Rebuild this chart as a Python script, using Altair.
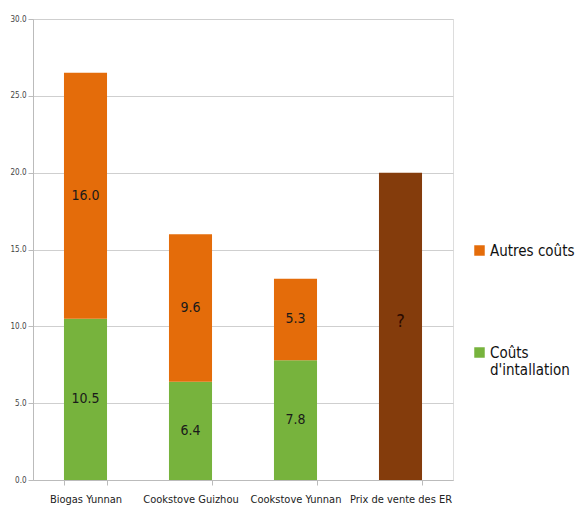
import altair as alt
import pandas as pd

categories = ["Biogas Yunnan", "Cookstove Guizhou", "Cookstove Yunnan"]
install_costs = [10.5, 6.4, 7.8]
other_costs = [16.0, 9.6, 5.3]
price_category = "Prix de vente des ER"
price_value = 20.0
price_label = "?"
series_names = ["Coûts d'intallation", "Autres coûts"]
all_categories = categories + [price_category]

rows = []
for c, a, b in zip(categories, install_costs, other_costs):
    rows.append({"cat": c, "series": series_names[0], "value": a, "ord": 0, "label": f"{a:.1f}"})
    rows.append({"cat": c, "series": series_names[1], "value": b, "ord": 1, "label": f"{b:.1f}"})
df = pd.DataFrame(rows)
df_price = pd.DataFrame([{"cat": price_category, "value": price_value, "label": price_label}])

FONT = "Liberation Sans Narrow, DejaVu Sans Condensed, sans-serif"

x_enc = alt.X("cat:N", sort=all_categories, scale=alt.Scale(domain=all_categories, paddingInner=0.59, paddingOuter=0.295),
              axis=alt.Axis(title=None, labelAngle=0, labelFontSize=11, labelColor="#222", labelFont=FONT,
                            domainColor="#bbb", tickColor="#bbb", tickBand="extent", tickSize=5, labelPadding=8))
y_scale = alt.Scale(domain=[0, 30], nice=False)
y_axis = alt.Axis(title=None, values=[0, 5, 10, 15, 20, 25, 30], format=".1f", labelFontSize=8,
                  labelColor="#444", labelFont=FONT, gridColor="#cfcfcf", domainColor="#bbb",
                  tickColor="#bbb", tickSize=5, labelPadding=2)

bars = alt.Chart(df).mark_bar().encode(
    x=x_enc,
    y=alt.Y("value:Q", stack="zero", scale=y_scale, axis=y_axis),
    color=alt.Color("series:N", scale=alt.Scale(domain=["Autres coûts", "Coûts d'intallation"],
                                                range=["#E46C0A", "#77B33D"]),
                    legend=alt.Legend(title=None, orient="none", legendX=439, legendY=224,
                                      symbolType="square", symbolSize=110, labelFontSize=15,
                                      labelFont=FONT, labelColor="#111", rowPadding=86,
                                      labelExpr="datum.label == \"Coûts d'intallation\" ? ['Coûts', ' ', \"d'intallation\"] : datum.label",
                                      labelBaseline="middle", labelOffset=3, symbolStrokeWidth=0)),
    order=alt.Order("ord:Q"),
)

labels = alt.Chart(df).transform_stack(
    stack="value", groupby=["cat"], as_=["v0", "v1"], sort=[alt.SortField("ord")]
).transform_calculate(mid="(datum.v0 + datum.v1) / 2").mark_text(
    fontSize=14, font=FONT, color="#1a1a1a"
).encode(x=alt.X("cat:N", sort=all_categories), y=alt.Y("mid:Q", scale=y_scale), text="label:N")

price_bar = alt.Chart(df_price).mark_bar(color="#843C0C").encode(
    x=alt.X("cat:N", sort=all_categories), y=alt.Y("value:Q", scale=y_scale))
price_text = alt.Chart(df_price).transform_calculate(mid="datum.value / 2").mark_text(
    fontSize=18, font=FONT, color="#2a0a00", dy=-4
).encode(x=alt.X("cat:N", sort=all_categories), y=alt.Y("mid:Q", scale=y_scale), text="label:N")

chart = alt.layer(bars, labels, price_bar, price_text).properties(
    width=420, height=461,
    autosize=alt.AutoSizeParams(type="none"),
    padding={"left": 33, "top": 19, "right": 124, "bottom": 32},
).configure_view(stroke=None).configure(background="white")

chart.save("out.html", embed_options={"renderer": "svg", "actions": False})
